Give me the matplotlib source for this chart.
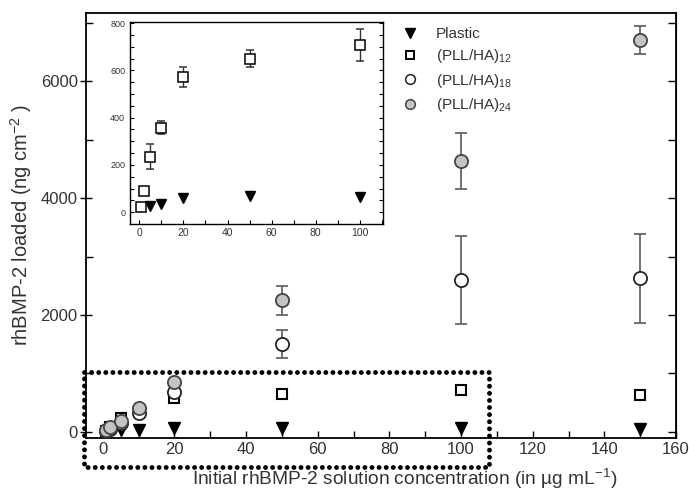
import numpy as np
import matplotlib
matplotlib.use("Agg")
import matplotlib.pyplot as plt
from matplotlib.lines import Line2D

plt.rcParams['font.family'] = ['Liberation Sans', 'DejaVu Sans']
plt.rcParams['mathtext.fontset'] = 'custom'
plt.rcParams['mathtext.rm'] = 'Liberation Sans'
plt.rcParams['mathtext.default'] = 'rm'

# data (ug/mL -> ng/cm2)
x_plastic = [5, 10, 20, 50, 100, 150]
y_plastic = [24, 36, 59, 70, 66, 55]

x_pll = [1, 2, 5, 10, 20, 50, 100, 150]
y_pll12 = [21, 91, 235, 358, 572, 650, 709, 632]
e_pll12 = [10, 12, 52, 28, 44, 37, 67, 30]
y_pll18 = [15, 55, 150, 320, 680, 1504, 2600, 2627]
e_pll18 = [0, 0, 0, 0, 0, 242, 760, 763]
y_pll24 = [25, 80, 190, 400, 860, 2250, 4630, 6700]
e_pll24 = [0, 0, 0, 0, 0, 242, 480, 242]

labels = ['Plastic', '(PLL/HA)$_{12}$', '(PLL/HA)$_{18}$', '(PLL/HA)$_{24}$']

txt = '#333333'
fig = plt.figure(figsize=(6.89, 4.90), dpi=100)
ax = fig.add_axes([0.1248, 0.1067, 0.8563, 0.867])

ecol = '#666666'
ax.errorbar(x_plastic, y_plastic, fmt='v', ms=9, mfc='black', mec='black', zorder=3)
ax.errorbar(x_pll, y_pll12, yerr=e_pll12, fmt='s', ms=7, mfc='white', mec='black', mew=1.5,
            ecolor=ecol, elinewidth=1.3, capsize=4.5, capthick=1.3, zorder=4)
ax.errorbar(x_pll, y_pll18, yerr=e_pll18, fmt='o', ms=9.5, mfc='white', mec='#222222', mew=1.3,
            ecolor=ecol, elinewidth=1.3, capsize=4.5, capthick=1.3, zorder=5)
ax.errorbar(x_pll, y_pll24, yerr=e_pll24, fmt='o', ms=9.5, mfc='#c4c4c4', mec='#444444', mew=1.3,
            ecolor=ecol, elinewidth=1.3, capsize=4.5, capthick=1.3, zorder=6)

ax.set_xlim(-4.7, 159.5)
ax.set_ylim(-100, 7170)
ax.set_xticks(np.arange(0, 161, 20))
ax.set_xticks(np.arange(0, 161, 10), minor=True)
ax.set_yticks([0, 2000, 4000, 6000])
ax.set_yticks(np.arange(0, 7001, 1000), minor=True)
ax.tick_params(axis='x', which='both', direction='in', length=5, width=1, top=False,
               labelsize=12, labelcolor=txt, pad=3)
ax.tick_params(axis='y', which='major', direction='inout', length=8, width=1,
               labelsize=12, labelcolor=txt, pad=2)
ax.tick_params(axis='y', which='minor', direction='in', length=5, width=1)
for s in ax.spines.values():
    s.set_linewidth(1.3)

sec = ax.secondary_yaxis('right')
sec.set_yticks(np.arange(0, 7001, 1000))
sec.tick_params(direction='in', length=6, width=1, labelright=False)

ax.set_xlabel('Initial rhBMP-2 solution concentration (in µg mL$^{-1}$)', fontsize=13.8, color=txt)
ax.set_ylabel('rhBMP-2 loaded (ng cm$^{-2}$ )', fontsize=14.5, color=txt)
ax.xaxis.set_label_coords(0.541, -0.068)
ax.yaxis.set_label_coords(-0.088, 0.5)

handles = [
    Line2D([], [], ls='none', marker='v', ms=7.5, mfc='black', mec='black'),
    Line2D([], [], ls='none', marker='s', ms=6, mfc='white', mec='black', mew=1.4),
    Line2D([], [], ls='none', marker='o', ms=7, mfc='white', mec='#222222', mew=1.1),
    Line2D([], [], ls='none', marker='o', ms=7, mfc='#c4c4c4', mec='#444444', mew=1.1),
]
leg = ax.legend(handles, labels, loc='upper left', bbox_to_anchor=(0.52, 0.985), frameon=False,
                fontsize=11, handlelength=1.2, handletextpad=1.1, labelspacing=0.42, borderpad=0)
for t in leg.get_texts():
    t.set_color(txt)

# inset
axi = fig.add_axes([0.1887, 0.543, 0.367, 0.412])
axi.errorbar(x_plastic[:-1], y_plastic[:-1], fmt='v', ms=7, mfc='black', mec='black', zorder=3)
axi.errorbar(x_pll[:-1], y_pll12[:-1], yerr=e_pll12[:-1], fmt='s', ms=6.5, mfc='white', mec='black',
             mew=1.1, ecolor='#333333', elinewidth=1, capsize=3, capthick=1, zorder=4)
axi.set_xlim(-4.2, 110.4)
axi.set_ylim(-50, 805)
axi.set_xticks(np.arange(0, 101, 20))
axi.set_xticks(np.arange(0, 111, 10), minor=True)
axi.set_yticks(np.arange(0, 801, 200))
axi.set_yticks(np.arange(0, 801, 50), minor=True)
axi.tick_params(axis='x', which='both', direction='in', length=3, width=0.8, labelsize=7.5,
                labelcolor=txt, pad=3)
axi.tick_params(axis='y', which='both', direction='in', length=3, width=0.8, labelsize=6.5,
                labelcolor=txt, right=True)
for s in axi.spines.values():
    s.set_linewidth(1)

# dotted zoom box
bx0, bx1, by0, by1 = 0.122, 0.7097, 0.0469, 0.2414
box = Line2D([bx0, bx1, bx1, bx0, bx0], [by1, by1, by0, by0, by1], transform=fig.transFigure,
             color='black', lw=3.5, linestyle=(0, (0.01, 1.45)), dash_capstyle='round')
fig.add_artist(box)

fig.savefig('out.png', dpi=100)
